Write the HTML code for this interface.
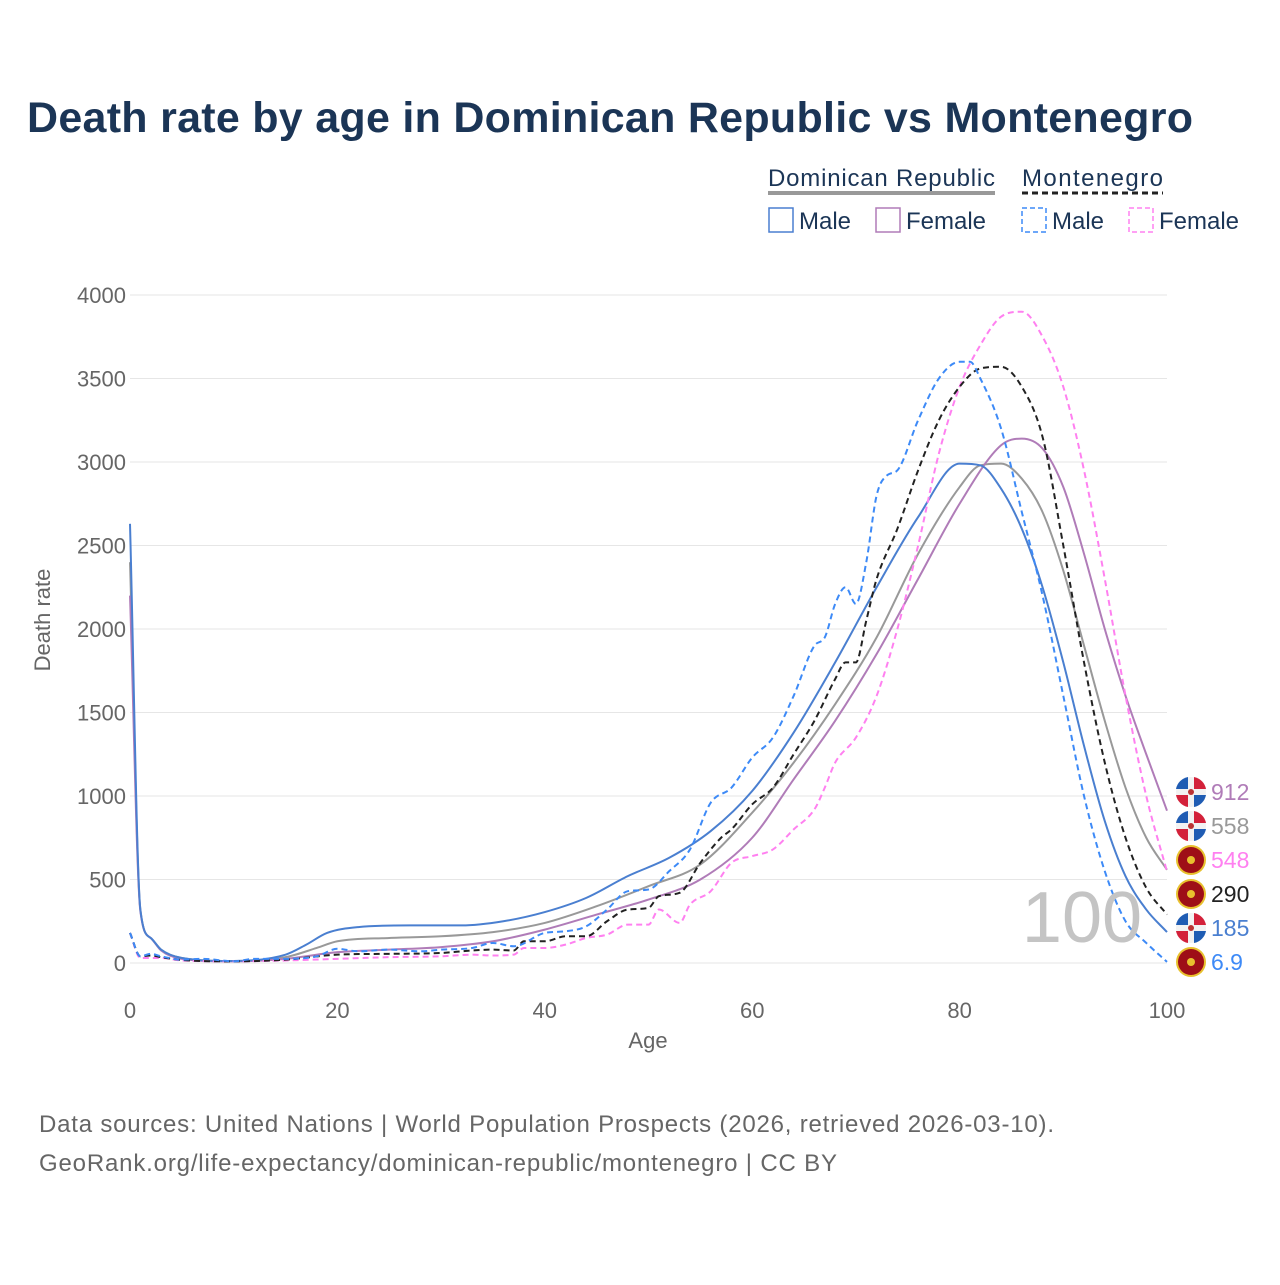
<!DOCTYPE html>
<html><head><meta charset="utf-8"><style>
body{margin:0;background:#fff;font-family:"Liberation Sans",sans-serif}
svg text{font-family:"Liberation Sans",sans-serif}
</style></head><body>
<svg id="c" width="1280" height="1280" xmlns="http://www.w3.org/2000/svg">
<text x="27" y="132" font-size="43" font-weight="bold" fill="#1b3556" textLength="1166">Death rate by age in Dominican Republic vs Montenegro</text>
<g>
<text x="768" y="186" font-size="24" fill="#1b3556" textLength="227">Dominican Republic</text>
<line x1="768" y1="193" x2="995" y2="193" stroke="#999" stroke-width="4"/>
<text x="1022" y="186" font-size="24" fill="#1b3556" textLength="141">Montenegro</text>
<line x1="1022" y1="193" x2="1163" y2="193" stroke="#222" stroke-width="3" stroke-dasharray="6,4"/>
<rect x="769" y="208" width="24" height="24" fill="none" stroke="#4a7fd0" stroke-width="1.5"/>
<text x="799" y="229" font-size="24" fill="#1b3556">Male</text>
<rect x="876" y="208" width="24" height="24" fill="none" stroke="#b07cb8" stroke-width="1.5"/>
<text x="906" y="229" font-size="24" fill="#1b3556">Female</text>
<rect x="1022" y="208" width="24" height="24" fill="none" stroke="#3d8af7" stroke-width="1.5" stroke-dasharray="5,3"/>
<text x="1052" y="229" font-size="24" fill="#1b3556">Male</text>
<rect x="1129" y="208" width="24" height="24" fill="none" stroke="#ff80f0" stroke-width="1.5" stroke-dasharray="5,3"/>
<text x="1159" y="229" font-size="24" fill="#1b3556">Female</text>
</g>
<g id="grid"></g><g id="lines"></g><g id="ends"></g>
<text x="1082" y="942" font-size="72" fill="#c4c4c4" text-anchor="middle">100</text>
<text transform="translate(50,620) rotate(-90)" font-size="22" fill="#666" text-anchor="middle">Death rate</text>
<text x="648" y="1048" font-size="22" fill="#666" text-anchor="middle">Age</text>
<text x="39" y="1132" font-size="24" fill="#666" textLength="1015">Data sources: United Nations | World Population Prospects (2026, retrieved 2026-03-10).</text>
<text x="39" y="1171" font-size="24" fill="#666" textLength="798">GeoRank.org/life-expectancy/dominican-republic/montenegro | CC BY</text>
</svg>
<script>
const yTicks=[0,500,1000,1500,2000,2500,3000,3500,4000];
const xTicks=[0,20,40,60,80,100];
const drMaleAge=[0,1,2,3,5,10,15,17,19,22,27,32,36,40,44,48,52,56,60,64,68,72,76,80,82,84,86,88,90,92,94,96,98,100];
const drMale=[2630,320,150,80,30,12,50,110,180,215,225,225,250,305,390,520,630,790,1030,1380,1800,2250,2670,2990,2980,2840,2600,2250,1800,1300,850,520,320,185];
const drTotAge=[0,1,2,3,5,10,15,18,20,25,30,35,40,45,50,55,60,64,68,72,76,80,82,84,86,88,90,92,94,96,98,100];
const drTot=[2400,320,150,80,30,12,35,90,130,150,160,185,240,340,460,590,900,1200,1550,1950,2450,2850,2980,2990,2900,2700,2350,1900,1450,1050,750,558];
const drFemAge=[0,1,2,3,5,10,15,20,25,30,35,40,45,50,55,60,64,68,72,76,80,84,86,88,90,92,94,96,98,100];
const drFem=[2200,310,150,75,25,10,25,65,80,95,130,200,290,380,500,750,1100,1450,1850,2300,2750,3100,3140,3080,2850,2450,2000,1600,1250,912];
const mneMaleAge=[0,1,2,3,5,7,10,12,15,18,20,22,25,28,30,33,35,37,40,42,44,46,48,50,52,54,56,58,60,62,64,66,67,68,69,70,71,72,73,74,76,78,80,81,82,84,86,88,90,92,94,96,98,100];
const mneMale=[180,40,55,40,20,25,10,25,25,40,85,70,80,70,80,90,120,100,180,190,220,320,430,440,550,680,960,1050,1230,1350,1600,1900,1950,2150,2250,2150,2400,2800,2920,2950,3250,3500,3600,3600,3500,3200,2700,2200,1600,1000,550,250,120,6.9];
const mneTotAge=[0,1,2,3,5,10,15,20,25,30,33,35,37,38,40,42,44,46,48,50,51,53,55,57,58,60,62,64,66,68,69,70,71,72,74,76,78,80,82,84,86,88,90,92,94,96,98,100];
const mneTot=[180,40,45,35,18,10,20,50,55,60,75,80,75,130,130,160,160,250,320,330,400,420,600,750,800,950,1050,1250,1450,1700,1800,1800,2050,2300,2600,2950,3250,3450,3560,3570,3450,3150,2500,1800,1200,750,450,290];
const mneFemAge=[0,1,3,5,10,15,20,25,30,33,35,37,38,40,42,44,46,48,50,51,53,54,56,58,60,62,64,66,67,68,70,72,74,76,78,80,82,84,86,88,90,92,94,96,98,100];
const mneFem=[180,30,30,15,10,15,25,35,40,50,45,50,90,90,110,150,170,230,230,320,240,350,430,600,640,680,800,920,1050,1200,1350,1600,2000,2500,3050,3450,3700,3870,3900,3750,3450,2950,2300,1600,1000,548];
const endLabels=["912","558","548","290","185","6.9"];
const NS="http://www.w3.org/2000/svg";
const X=a=>130+a*10.37, Y=v=>963-v*0.167;
function mk(t,at,p){const e=document.createElementNS(NS,t);for(const k in at)e.setAttribute(k,at[k]);p.appendChild(e);return e;}
const grid=document.getElementById('grid');
yTicks.forEach(v=>{
 const l=mk('line',{x1:130,x2:1167,y1:Y(v),y2:Y(v),stroke:'#e6e6e6','stroke-width':1},grid);
 
 
 const t=mk('text',{x:126,y:Y(v)+8,'font-size':22,fill:'#666','text-anchor':'end'},grid);t.textContent=v;
 
 
});
xTicks.forEach(v=>{
 const t=mk('text',{x:X(v),y:1018,'font-size':22,fill:'#666','text-anchor':'middle'},grid);t.textContent=v;
 
 
});
function path(ax,vs){
 const xs=ax.map(X),ys=vs.map(Y),n=xs.length;
 const d=[],m=new Array(n);
 for(let i=0;i<n-1;i++)d.push((ys[i+1]-ys[i])/(xs[i+1]-xs[i]));
 m[0]=d[0];m[n-1]=d[n-2];
 for(let i=1;i<n-1;i++){m[i]=(d[i-1]*d[i]<=0)?0:(d[i-1]+d[i])/2;}
 for(let i=0;i<n-1;i++){if(d[i]===0){m[i]=0;m[i+1]=0;continue;}
  const a=m[i]/d[i],b=m[i+1]/d[i],s=a*a+b*b;if(s>9){const t=3/Math.sqrt(s);m[i]=t*a*d[i];m[i+1]=t*b*d[i];}}
 let p='M'+xs[0]+','+ys[0];
 for(let i=0;i<n-1;i++){const h=(xs[i+1]-xs[i])/3;
  p+=` C${xs[i]+h},${ys[i]+m[i]*h} ${xs[i+1]-h},${ys[i+1]-m[i+1]*h} ${xs[i+1]},${ys[i+1]}`;}
 return p;}
const lines=document.getElementById('lines');
const series=[[drTotAge,drTot,'#999','','line-dr-total'],[drFemAge,drFem,'#b07cb8','','line-dr-female'],[drMaleAge,drMale,'#4a7fd0','','line-dr-male'],
 [mneFemAge,mneFem,'#ff80f0','6,4','line-mne-female'],[mneTotAge,mneTot,'#222','6,4','line-mne-total'],[mneMaleAge,mneMale,'#3d8af7','6,4','line-mne-male']];
series.forEach(s=>{const e=mk('path',{d:path(s[0],s[1]),fill:'none',stroke:s[2],'stroke-width':2,'stroke-dasharray':s[3]},lines);
 
 });
const ends=document.getElementById('ends');
const cols=['#b07cb8','#999','#ff80f0','#222','#4a7fd0','#3d8af7'];
const dr=[true,true,false,false,true,false];
endLabels.forEach((lab,i)=>{const cy=792+i*34;const cx=1191;
 const g=mk('g',{},ends);
 
 
 if(dr[i]){mk('circle',{cx,cy,r:15,fill:'#f2f2f2'},g);
  mk('path',{d:`M${cx-15},${cy-3} A15,15 0 0 1 ${cx-3},${cy-15} L${cx-3},${cy-3}Z`,fill:'#1f5cb3'},g);
  mk('path',{d:`M${cx+3},${cy-15} A15,15 0 0 1 ${cx+15},${cy-3} L${cx+3},${cy-3}Z`,fill:'#d3213a'},g);
  mk('path',{d:`M${cx-15},${cy+3} L${cx-3},${cy+3} L${cx-3},${cy+15} A15,15 0 0 1 ${cx-15},${cy+3}Z`,fill:'#d3213a'},g);
  mk('path',{d:`M${cx+3},${cy+3} L${cx+15},${cy+3} A15,15 0 0 1 ${cx+3},${cy+15}Z`,fill:'#1f5cb3'},g);
  mk('circle',{cx,cy,r:3,fill:'#b33'},g);}
 else{mk('circle',{cx,cy,r:15,fill:'#e8c12e'},g);mk('circle',{cx,cy,r:13,fill:'#9e0f17'},g);
  mk('circle',{cx,cy,r:4,fill:'#e8c12e'},g);}
 const t=mk('text',{x:1211,y:cy+8,'font-size':23,fill:cols[i]},g);t.textContent=lab;});
</script>
</body></html>
